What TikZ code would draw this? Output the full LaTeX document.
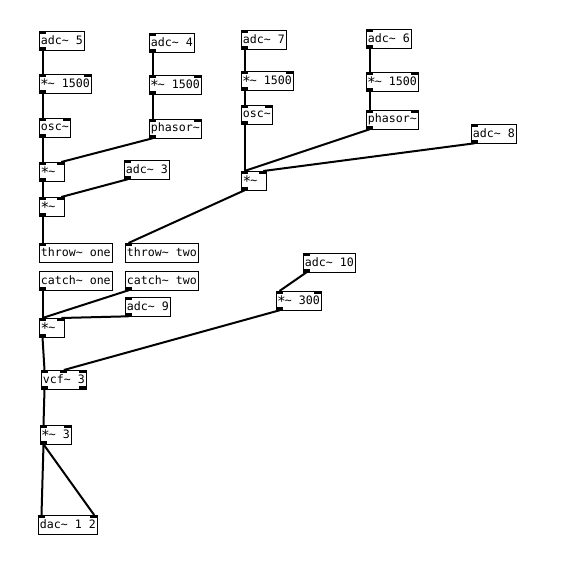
\documentclass[tikz,border=0pt]{standalone}
\usepackage{fontspec}
\newfontfamily\pdfont{DejaVu Sans Mono}
\usetikzlibrary{calc}
\newcommand{\tl}{\textasciitilde}
\newcommand{\st}{\makebox[0.6em]{\raisebox{-0.3ex}{\scalebox{1.25}{*}}}}
\tikzset{
    obj/.style={draw, line width=0.8pt, anchor=north west,
                minimum height=18.5pt, minimum width=25pt,
                inner xsep=1.5pt, inner ysep=0pt,
                font=\pdfont\fontsize{11.6}{12}\selectfont},
    narrow/.style={obj, text width=21pt, align=left},
    io/.style 2 args={path picture={
        \ifnum#1>0
        \foreach \k in {1,...,#1}
            \fill let \p1=(path picture bounding box.north west),
                      \p2=(path picture bounding box.south east),
                      \n1={(\x2-\x1-7pt)/max(#1-1,1)} in
                ({\x1+(\k-1)*\n1},\y1) rectangle ++(7pt,-2.5pt);
        \fi
        \ifnum#2>0
        \foreach \k in {1,...,#2}
            \fill let \p1=(path picture bounding box.north west),
                      \p2=(path picture bounding box.south east),
                      \n1={(\x2-\x1-7pt)/max(#2-1,1)} in
                ({\x1+(\k-1)*\n1},\y2) rectangle ++(7pt,2.5pt);
        \fi}},
    wire/.style={line width=2pt},
}

\begin{document}
\begin{tikzpicture}[x=1pt, y=-1pt]

    \fill[white] (0,0) rectangle (575,581);
    \useasboundingbox (0,0) rectangle (575,581);

    % first voice
    \node[obj, io={1}{1}] (adcfive) at (39,31) {adc\tl{} 5};
    \node[obj, io={2}{1}] (mulfreqa) at (39,74) {\st\tl{} 1500};
    \node[obj, io={2}{1}] (osca) at (39,118) {osc\tl};
    \node[obj, io={1}{1}] (adcfour) at (149,33) {adc\tl{} 4};
    \node[obj, io={2}{1}] (mulfreqb) at (149,75) {\st\tl{} 1500};
    \node[obj, io={2}{1}] (phasora) at (149,119) {phasor\tl};
    \node[narrow, io={2}{1}] (mula) at (39,162) {\st\tl};
    \node[obj, io={1}{1}] (adcthree) at (124,160) {adc\tl{} 3};
    \node[narrow, io={2}{1}] (mulb) at (39,197) {\st\tl};
    \node[obj, io={1}{0}] (throwone) at (39,243) {throw\tl{} one};

    % second voice
    \node[obj, io={1}{1}] (adcseven) at (241,30) {adc\tl{} 7};
    \node[obj, io={2}{1}] (mulfreqc) at (241,71) {\st\tl{} 1500};
    \node[obj, io={2}{1}] (oscb) at (241,105) {osc\tl};
    \node[obj, io={1}{1}] (adcsix) at (366,29) {adc\tl{} 6};
    \node[obj, io={2}{1}] (mulfreqd) at (366,72) {\st\tl{} 1500};
    \node[obj, io={2}{1}] (phasorb) at (366,110) {phasor\tl};
    \node[obj, io={1}{1}] (adceight) at (471,124) {adc\tl{} 8};
    \node[narrow, io={2}{1}] (mulc) at (241,171) {\st\tl};
    \node[obj, io={1}{0}] (throwtwo) at (125,243) {throw\tl{} two};

    % mix and filter
    \node[obj, io={0}{1}] (catchone) at (39,271) {catch\tl{} one};
    \node[obj, io={0}{1}] (catchtwo) at (125,271) {catch\tl{} two};
    \node[obj, io={1}{1}] (adcnine) at (125,297) {adc\tl{} 9};
    \node[narrow, io={2}{1}] (muld) at (39,318) {\st\tl};
    \node[obj, io={1}{1}] (adcten) at (303,253) {adc\tl{} 10};
    \node[obj, io={2}{1}] (mulq) at (276,291) {\st\tl{} 300};
    \node[obj, io={3}{2}] (vcf) at (41,370) {vcf\tl{} 3};
    \node[obj, io={2}{1}] (gain) at (40,425) {\st\tl{} 3};
    \node[obj, io={2}{0}] (dac) at (38,515) {dac\tl{} 1 2};

    \draw[wire] ([xshift=3.5pt]adcfive.south west) -- ([xshift=3.5pt]mulfreqa.north west);
    \draw[wire] ([xshift=3.5pt]mulfreqa.south west) -- ([xshift=3.5pt]osca.north west);
    \draw[wire] ([xshift=3.5pt]osca.south west) -- ([xshift=3.5pt]mula.north west);
    \draw[wire] ([xshift=3.5pt]adcfour.south west) -- ([xshift=3.5pt]mulfreqb.north west);
    \draw[wire] ([xshift=3.5pt]mulfreqb.south west) -- ([xshift=3.5pt]phasora.north west);
    \draw[wire] ([xshift=3.5pt]phasora.south west) -- ([xshift=-3.5pt]mula.north east);
    \draw[wire] ([xshift=3.5pt]mula.south west) -- ([xshift=3.5pt]mulb.north west);
    \draw[wire] ([xshift=3.5pt]adcthree.south west) -- ([xshift=-3.5pt]mulb.north east);
    \draw[wire] ([xshift=3.5pt]mulb.south west) -- ([xshift=3.5pt]throwone.north west);

    \draw[wire] ([xshift=3.5pt]adcseven.south west) -- ([xshift=3.5pt]mulfreqc.north west);
    \draw[wire] ([xshift=3.5pt]mulfreqc.south west) -- ([xshift=3.5pt]oscb.north west);
    \draw[wire] ([xshift=3.5pt]oscb.south west) -- ([xshift=3.5pt]mulc.north west);
    \draw[wire] ([xshift=3.5pt]adcsix.south west) -- ([xshift=3.5pt]mulfreqd.north west);
    \draw[wire] ([xshift=3.5pt]mulfreqd.south west) -- ([xshift=3.5pt]phasorb.north west);
    \draw[wire] ([xshift=3.5pt]phasorb.south west) -- ([xshift=3.5pt]mulc.north west);
    \draw[wire] ([xshift=3.5pt]adceight.south west) -- ([xshift=-3.5pt]mulc.north east);
    \draw[wire] ([xshift=3.5pt]mulc.south west) -- ([xshift=3.5pt]throwtwo.north west);

    \draw[wire] ([xshift=3.5pt]catchone.south west) -- ([xshift=3.5pt]muld.north west);
    \draw[wire] ([xshift=3.5pt]catchtwo.south west) -- ([xshift=3.5pt]muld.north west);
    \draw[wire] ([xshift=3.5pt]adcnine.south west) -- ([xshift=-3.5pt]muld.north east);
    \draw[wire] ([xshift=3.5pt]muld.south west) -- ([xshift=3.5pt]vcf.north west);
    \draw[wire] ([xshift=3.5pt]adcten.south west) -- ([xshift=3.5pt]mulq.north west);
    \draw[wire] ([xshift=3.5pt]mulq.south west) -- (vcf.north);
    \draw[wire] ([xshift=3.5pt]vcf.south west) -- ([xshift=3.5pt]gain.north west);
    \draw[wire] ([xshift=3.5pt]gain.south west) -- ([xshift=3.5pt]dac.north west);
    \draw[wire] ([xshift=3.5pt]gain.south west) -- ([xshift=-3.5pt]dac.north east);

\end{tikzpicture}
\end{document}
